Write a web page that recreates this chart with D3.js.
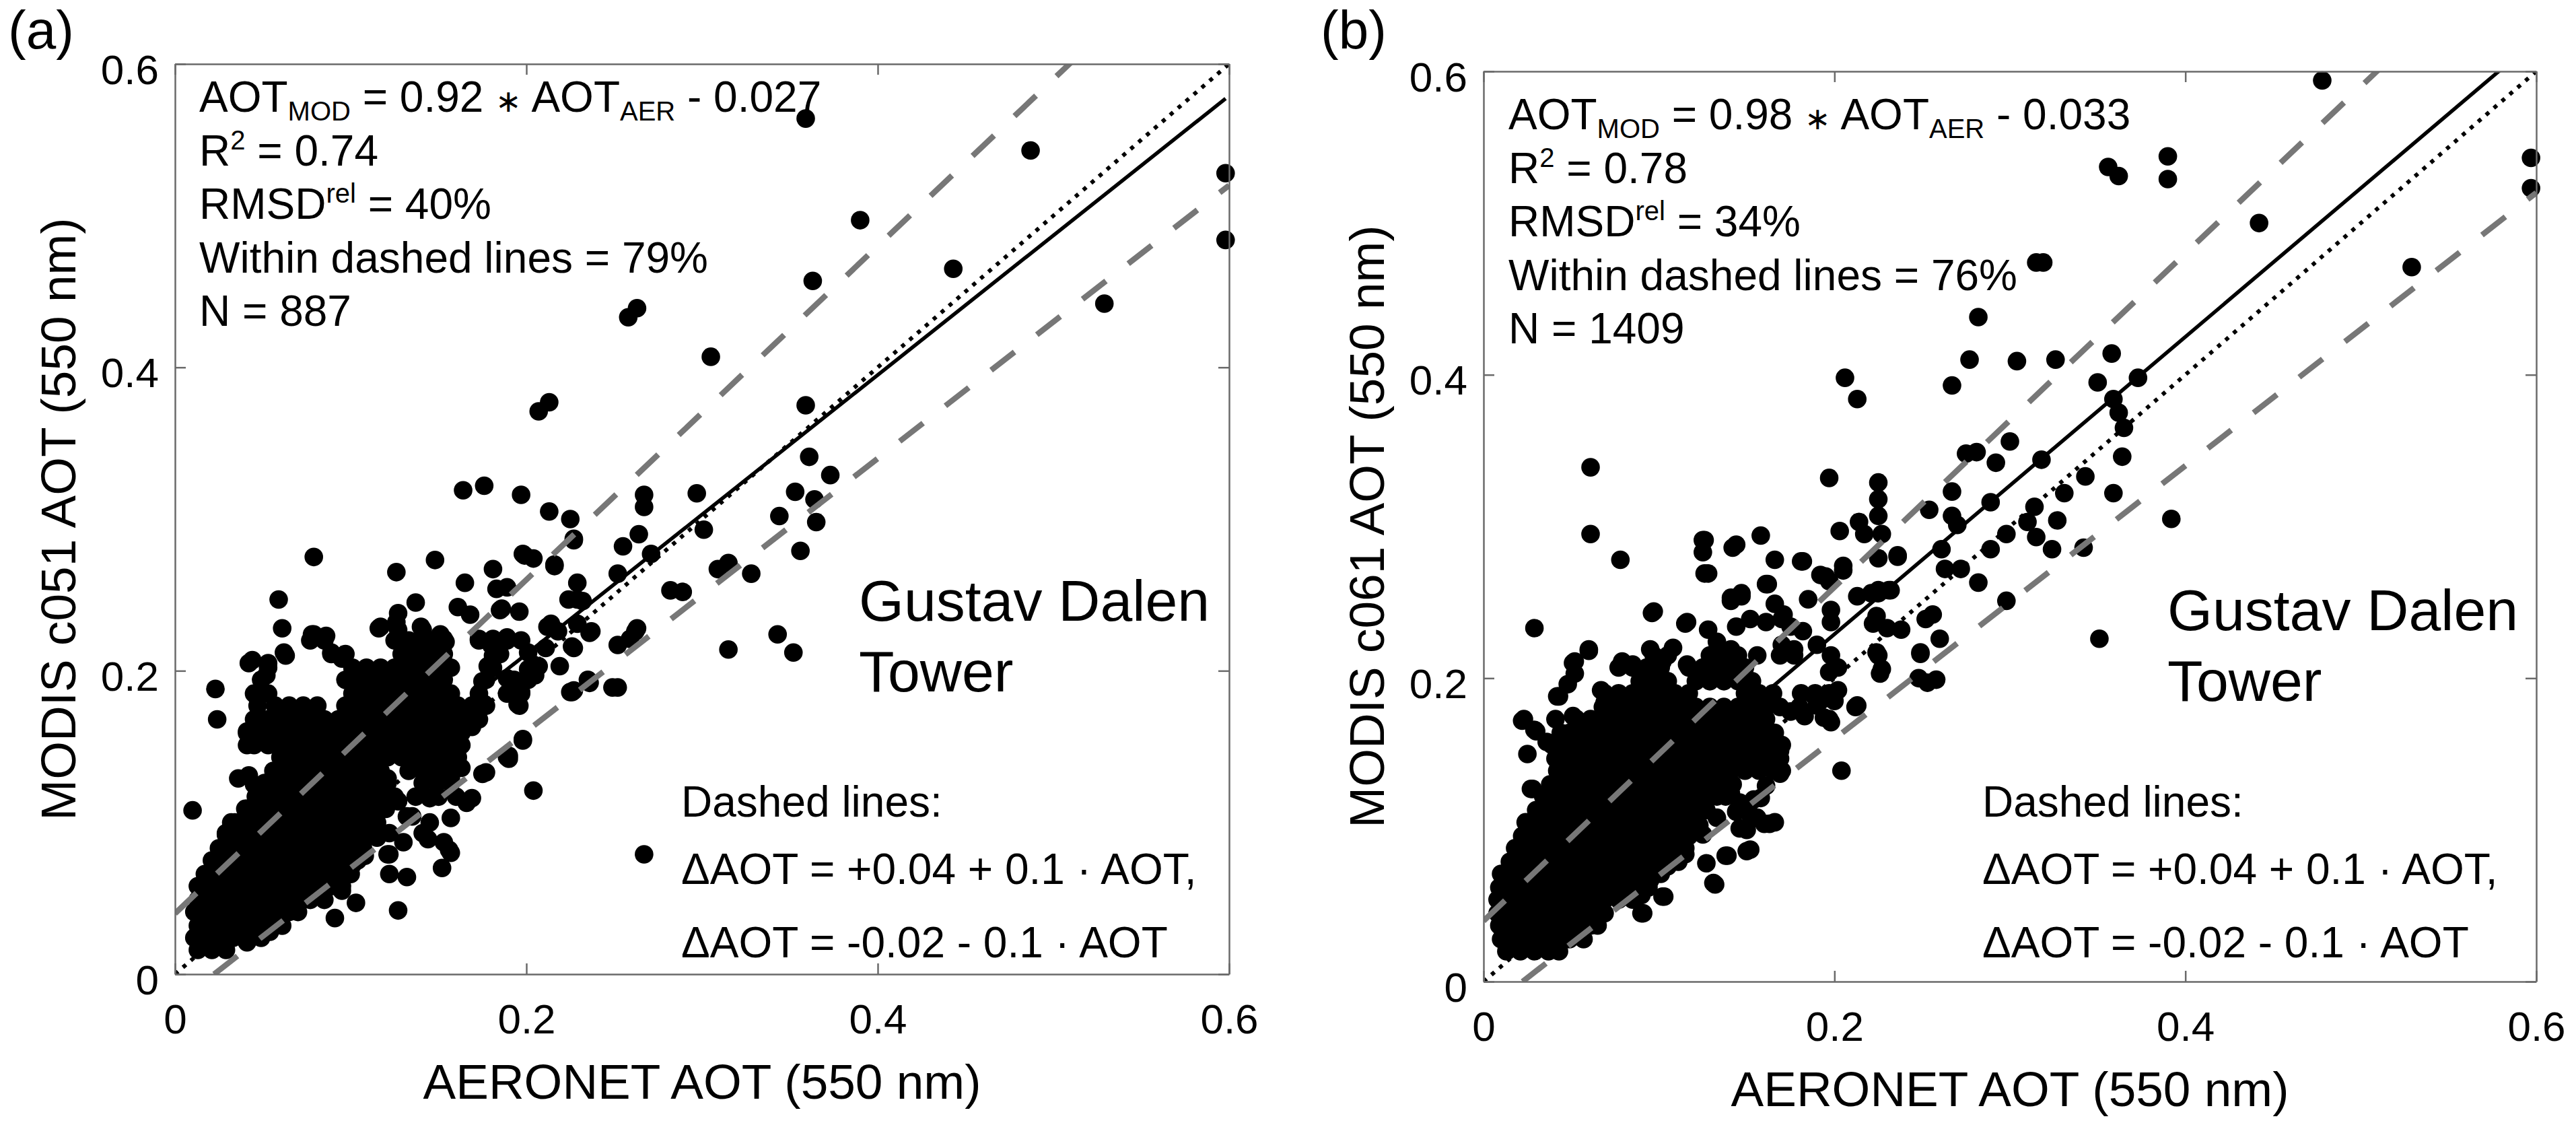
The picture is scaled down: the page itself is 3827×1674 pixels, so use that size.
<!DOCTYPE html>
<html>
<head>
<meta charset="utf-8">
<script src="https://cdn.jsdelivr.net/npm/d3@7"></script>
<style>
  body { margin: 0; background: #fff; }
  svg { display: block; }
  text { font-family: "Liberation Sans", Arial, sans-serif; fill: #000; }
</style>
</head>
<body>
<svg id="chart" width="3827" height="1674"></svg>
<script>
// ---- data ----
var ticks = [0, 0.2, 0.4, 0.6];
var tickLabels = ["0", "0.2", "0.4", "0.6"];
var panelLetters = ["(a)", "(b)"];
var yTitles = ["MODIS c051 AOT (550 nm)", "MODIS c061 AOT (550 nm)"];
var xTitle = "AERONET AOT (550 nm)";
var siteName = ["Gustav Dalen", "Tower"];

// regression line as drawn (slope, offset)
var fitSlope = [0.92, 0.98];
var fitOffset = [0.027, 0.033];

// expected-error envelope: offset, slope
var envUpper = [0.04, 1.1];
var envLower = [-0.02, 0.9];

var statsA = [
  [["AOT", ""], ["MOD", "sub"], [" = 0.92 ", ""], ["\u2217", "star"], [" AOT", ""], ["AER", "sub"], [" - 0.027", ""]],
  [["R", ""], ["2", "sup"], [" = 0.74", ""]],
  [["RMSD", ""], ["rel", "sup"], [" = 40%", ""]],
  [["Within dashed lines = 79%", ""]],
  [["N = 887", ""]]
];
var statsB = [
  [["AOT", ""], ["MOD", "sub"], [" = 0.98 ", ""], ["\u2217", "star"], [" AOT", ""], ["AER", "sub"], [" - 0.033", ""]],
  [["R", ""], ["2", "sup"], [" = 0.78", ""]],
  [["RMSD", ""], ["rel", "sup"], [" = 34%", ""]],
  [["Within dashed lines = 76%", ""]],
  [["N = 1409", ""]]
];
var envText = ["Dashed lines:", "\u0394AOT = +0.04 + 0.1 \u00b7 AOT,", "\u0394AOT = -0.02 - 0.1 \u00b7 AOT"];

// scattered points (AERONET, MODIS), panel a
var pointsA = [
  [0.359,0.564],[0.487,0.543],[0.598,0.528],[0.598,0.484],[0.390,0.497],[0.443,0.465],[0.363,0.457],[0.529,0.442],
  [0.263,0.439],[0.258,0.433],[0.305,0.407],[0.359,0.375],[0.213,0.377],[0.207,0.371],
  [0.361,0.341],[0.373,0.329],[0.364,0.313],[0.353,0.318],[0.344,0.302],[0.365,0.298],[0.356,0.279],[0.297,0.317],
  [0.267,0.316],[0.267,0.308],[0.301,0.293],[0.264,0.290],[0.271,0.277],[0.255,0.282],[0.252,0.264],[0.309,0.267],
  [0.315,0.271],[0.328,0.264],[0.282,0.253],[0.289,0.252],[0.343,0.224],[0.352,0.212],[0.315,0.214],[0.263,0.228],
  [0.259,0.221],[0.252,0.189],[0.227,0.187],[0.236,0.192],
  [0.164,0.319],[0.176,0.322],[0.197,0.316],[0.213,0.305],[0.225,0.300],[0.227,0.287],[0.199,0.276],[0.204,0.274],
  [0.216,0.269],[0.181,0.267],[0.165,0.258],[0.148,0.273],[0.126,0.265],[0.079,0.275],[0.137,0.245],[0.127,0.238],
  [0.059,0.247],[0.061,0.228],[0.078,0.224],[0.085,0.222],[0.062,0.212],[0.042,0.205],[0.053,0.205],[0.023,0.188],
  [0.024,0.168],[0.010,0.108],[0.267,0.079],[0.204,0.121],[0.127,0.042],[0.091,0.037],
  [0.229,0.258],[0.229,0.247],[0.237,0.226],[0.227,0.215],[0.186,0.241],[0.196,0.239],[0.183,0.254],[0.161,0.242],
  [0.151,0.224],[0.142,0.222],[0.117,0.229],[0.140,0.229],[0.180,0.217],[0.212,0.229],[0.204,0.204],[0.196,0.192],
  [0.196,0.177],[0.198,0.154],[0.190,0.144],[0.176,0.177],[0.169,0.163],
  [0.198,0.277],[0.216,0.270],[0.189,0.255],[0.227,0.286],[0.127,0.227],[0.116,0.228],[0.153,0.221],[0.127,0.221],
  [0.079,0.224],[0.086,0.223],[0.168,0.237],[0.185,0.240],[0.173,0.221],[0.181,0.221],[0.189,0.222],[0.214,0.231],
  [0.224,0.247],[0.232,0.246],[0.229,0.231],[0.236,0.225],[0.252,0.217],[0.249,0.189],[0.225,0.186],[0.195,0.178],
  [0.198,0.155],[0.189,0.143],[0.175,0.132],[0.166,0.113],[0.157,0.103],[0.156,0.082],[0.152,0.070],[0.145,0.100],
  [0.144,0.089],[0.132,0.064],[0.122,0.066],[0.122,0.079],[0.130,0.087],[0.103,0.047],[0.095,0.055],[0.101,0.072],
  [0.108,0.078],[0.114,0.093],[0.122,0.093],[0.132,0.104],[0.137,0.117],[0.127,0.114],[0.121,0.129],[0.163,0.136],
  [0.147,0.129],[0.157,0.129],[0.163,0.159],[0.170,0.169],[0.176,0.178],[0.175,0.193],[0.178,0.203],[0.181,0.210],
  [0.189,0.195],[0.201,0.201],[0.207,0.203],[0.193,0.189],[0.219,0.203],[0.211,0.215],[0.201,0.212],[0.205,0.197],
  [0.197,0.186],[0.226,0.186],[0.235,0.194],[0.262,0.226],[0.190,0.142],[0.157,0.131],[0.169,0.116],[0.145,0.116],
  [0.135,0.104],[0.141,0.093],[0.153,0.087],[0.157,0.080],[0.121,0.079],[0.115,0.090],[0.177,0.133],[0.041,0.159],
  [0.045,0.152],[0.036,0.129],[0.042,0.131],[0.045,0.125],[0.032,0.100],[0.029,0.093],[0.041,0.021],[0.054,0.028],
  [0.063,0.210],[0.044,0.207],[0.052,0.197],[0.047,0.182],[0.089,0.212],[0.095,0.208],[0.154,0.219],[0.141,0.227],
  [0.126,0.232],[0.218,0.226],[0.226,0.216]
];

// dense core of panel a, listed row by row: [MODIS, [AERONET ...]]
var coreA = [
  [0.016,[0.013,0.021,0.029]],
  [0.024,[0.011,0.017,0.025,0.033,0.041,0.049]],
  [0.032,[0.013,0.021,0.029,0.037,0.045,0.053,0.061]],
  [0.041,[0.011,0.017,0.025,0.033,0.041,0.049,0.057,0.065,0.070]],
  [0.049,[0.013,0.021,0.029,0.037,0.045,0.053,0.061,0.069,0.077,0.085]],
  [0.058,[0.013,0.017,0.025,0.033,0.041,0.049,0.057,0.065,0.073,0.081,0.089,0.095]],
  [0.066,[0.017,0.021,0.029,0.037,0.045,0.053,0.061,0.069,0.077,0.085,0.093,0.100]],
  [0.075,[0.021,0.025,0.033,0.041,0.049,0.057,0.065,0.073,0.081,0.089,0.097,0.104]],
  [0.083,[0.025,0.029,0.037,0.045,0.053,0.061,0.069,0.077,0.085,0.093,0.101,0.107]],
  [0.092,[0.029,0.033,0.041,0.049,0.057,0.065,0.073,0.081,0.089,0.097,0.105,0.111]],
  [0.100,[0.034,0.037,0.045,0.053,0.061,0.069,0.077,0.085,0.093,0.101,0.109,0.115]],
  [0.109,[0.040,0.041,0.049,0.057,0.065,0.073,0.081,0.089,0.097,0.105,0.113,0.120]],
  [0.117,[0.046,0.053,0.061,0.069,0.077,0.085,0.093,0.101,0.109,0.117,0.125,0.150,0.160]],
  [0.126,[0.051,0.057,0.065,0.073,0.081,0.089,0.097,0.105,0.113,0.121,0.141,0.149,0.157]],
  [0.134,[0.056,0.061,0.069,0.077,0.085,0.093,0.101,0.109,0.117,0.133,0.141,0.149,0.157]],
  [0.143,[0.060,0.065,0.073,0.081,0.089,0.097,0.105,0.113,0.121,0.129,0.137,0.145,0.153,0.161]],
  [0.151,[0.041,0.045,0.053,0.061,0.069,0.077,0.085,0.093,0.101,0.109,0.117,0.125,0.133,0.141,0.149,0.157,0.163]],
  [0.160,[0.041,0.049,0.057,0.065,0.073,0.081,0.089,0.097,0.105,0.113,0.121,0.129,0.137,0.145,0.153,0.161]],
  [0.168,[0.045,0.053,0.061,0.069,0.077,0.085,0.093,0.101,0.109,0.117,0.125,0.133,0.141,0.149,0.157,0.165,0.173]],
  [0.177,[0.047,0.057,0.065,0.073,0.081,0.097,0.105,0.113,0.121,0.129,0.137,0.145,0.153,0.161,0.169,0.177]],
  [0.185,[0.045,0.053,0.101,0.109,0.117,0.125,0.133,0.141,0.149,0.157,0.173,0.189,0.197]],
  [0.194,[0.049,0.097,0.105,0.113,0.121,0.129,0.137,0.145,0.153,0.177,0.193,0.201]],
  [0.202,[0.053,0.101,0.109,0.117,0.125,0.133,0.141,0.149,0.157,0.181,0.205]],
  [0.211,[0.089,0.097,0.129,0.137,0.145,0.153,0.185]],
  [0.220,[0.077,0.085,0.125,0.133,0.141,0.149,0.173,0.181,0.189,0.197]]
];

// scattered points, panel b
var pointsB = [
  [0.478,0.594],[0.390,0.544],[0.390,0.529],[0.356,0.537],[0.362,0.531],[0.597,0.543],[0.597,0.523],[0.442,0.500],
  [0.529,0.471],[0.315,0.474],[0.319,0.474],[0.282,0.438],[0.277,0.410],[0.304,0.409],[0.326,0.410],[0.358,0.414],
  [0.350,0.395],[0.373,0.398],[0.267,0.393],[0.206,0.398],[0.213,0.384],[0.359,0.384],[0.362,0.375],[0.365,0.365],
  [0.364,0.346],[0.359,0.322],[0.392,0.305],[0.343,0.333],[0.331,0.322],[0.327,0.304],[0.314,0.313],[0.318,0.344],
  [0.300,0.356],[0.275,0.348],[0.281,0.349],[0.292,0.342],[0.267,0.323],[0.289,0.316],[0.267,0.307],[0.270,0.301],
  [0.254,0.311],[0.261,0.285],[0.289,0.285],[0.298,0.295],[0.310,0.303],[0.315,0.293],[0.324,0.285],[0.342,0.286],
  [0.351,0.226],[0.263,0.272],[0.272,0.272],[0.282,0.263],[0.298,0.251],[0.225,0.329],[0.225,0.318],[0.225,0.307],
  [0.227,0.295],[0.214,0.303],[0.217,0.295],[0.203,0.297],[0.197,0.332],[0.236,0.280],[0.225,0.279],[0.225,0.258],
  [0.232,0.258],[0.221,0.256],[0.205,0.271],[0.195,0.267],[0.181,0.277],[0.158,0.294],[0.142,0.286],[0.125,0.291],
  [0.125,0.283],[0.126,0.269],[0.061,0.339],[0.061,0.295],[0.078,0.278],[0.029,0.233],[0.096,0.243],[0.115,0.236],
  [0.141,0.251],[0.147,0.254],[0.161,0.262],[0.171,0.242],[0.182,0.231],[0.204,0.139],[0.212,0.181],[0.224,0.217],
  [0.227,0.206],[0.230,0.233],[0.249,0.216],[0.253,0.197],[0.258,0.199],[0.260,0.226],[0.256,0.242],[0.197,0.204],
  [0.194,0.174],[0.163,0.104],[0.150,0.086],[0.138,0.083],[0.127,0.078],[0.131,0.065],[0.102,0.056],[0.090,0.045],
  [0.010,0.071],[0.060,0.218],[0.051,0.210],[0.042,0.188],[0.022,0.172],[0.029,0.166],[0.027,0.127],
  [0.023,0.173],[0.030,0.165],[0.036,0.158],[0.025,0.150],[0.028,0.127],[0.024,0.105],[0.041,0.173],[0.051,0.175],
  [0.043,0.188],[0.048,0.196],[0.052,0.203],[0.052,0.211],[0.060,0.219],[0.067,0.192],[0.069,0.184],[0.079,0.211],
  [0.085,0.209],[0.095,0.219],[0.108,0.220],[0.102,0.211],[0.116,0.209],[0.126,0.207],[0.128,0.232],[0.133,0.224],
  [0.141,0.219],[0.144,0.234],[0.152,0.239],[0.161,0.237],[0.156,0.215],[0.162,0.262],[0.166,0.249],[0.170,0.239],
  [0.170,0.222],[0.175,0.234],[0.177,0.219],[0.190,0.222],[0.198,0.215],[0.202,0.207],[0.192,0.268],[0.197,0.264],
  [0.185,0.252],[0.198,0.245],[0.198,0.237],[0.213,0.254],[0.205,0.274],[0.182,0.277],[0.166,0.278],[0.144,0.288],
  [0.141,0.253],[0.147,0.256],[0.116,0.237],[0.097,0.244],[0.126,0.291],[0.128,0.269],[0.225,0.256],[0.231,0.258],
  [0.224,0.241],[0.222,0.236],[0.225,0.215],[0.226,0.203],[0.238,0.232],[0.236,0.281],[0.252,0.239],[0.249,0.217],
  [0.248,0.200],[0.213,0.182],[0.198,0.171],[0.193,0.186],[0.202,0.192],[0.180,0.181],[0.169,0.152],[0.169,0.137],
  [0.161,0.129],[0.154,0.120],[0.151,0.112],[0.166,0.105],[0.156,0.108],[0.146,0.101],[0.133,0.108],[0.123,0.103],
  [0.125,0.097],[0.152,0.087],[0.139,0.083],[0.132,0.064],[0.115,0.084],[0.103,0.056],[0.091,0.045],[0.090,0.057],
  [0.082,0.063],[0.095,0.067],[0.105,0.076],[0.043,0.025],[0.056,0.031],[0.144,0.112],[0.141,0.124],[0.175,0.178],
  [0.183,0.175],[0.190,0.182],[0.197,0.173],[0.200,0.185],[0.146,0.118],[0.152,0.110],[0.158,0.121],[0.150,0.100],
  [0.160,0.104]
];

// dense core of panel b
var coreB = [
  [0.020,[0.013,0.021,0.029,0.037,0.043]],
  [0.028,[0.010,0.017,0.025,0.033,0.041,0.049,0.057]],
  [0.037,[0.009,0.013,0.021,0.029,0.037,0.045,0.053,0.061,0.065]],
  [0.045,[0.008,0.017,0.025,0.033,0.041,0.049,0.057,0.065,0.069]],
  [0.054,[0.008,0.013,0.021,0.029,0.037,0.045,0.053,0.061,0.069,0.077,0.085]],
  [0.062,[0.009,0.017,0.025,0.033,0.041,0.049,0.057,0.065,0.073,0.081,0.089,0.094]],
  [0.071,[0.012,0.021,0.029,0.037,0.045,0.053,0.061,0.069,0.077,0.085,0.093,0.101]],
  [0.079,[0.015,0.017,0.025,0.033,0.041,0.049,0.057,0.065,0.073,0.081,0.089,0.097,0.105,0.111]],
  [0.088,[0.018,0.021,0.029,0.037,0.045,0.053,0.061,0.069,0.077,0.085,0.093,0.101,0.109,0.115]],
  [0.096,[0.022,0.025,0.033,0.041,0.049,0.057,0.065,0.073,0.081,0.089,0.097,0.105,0.113,0.117]],
  [0.105,[0.026,0.029,0.037,0.045,0.053,0.061,0.069,0.077,0.085,0.093,0.101,0.109,0.117,0.121]],
  [0.113,[0.030,0.033,0.041,0.049,0.057,0.065,0.073,0.081,0.089,0.097,0.105,0.113,0.121,0.127]],
  [0.122,[0.034,0.037,0.045,0.053,0.061,0.069,0.077,0.085,0.093,0.101,0.109,0.117,0.125,0.133,0.138]],
  [0.130,[0.038,0.041,0.049,0.057,0.065,0.073,0.081,0.089,0.097,0.105,0.113,0.121,0.129,0.137,0.142]],
  [0.139,[0.042,0.045,0.053,0.061,0.069,0.077,0.085,0.093,0.101,0.109,0.117,0.125,0.133,0.141,0.149,0.157,0.165,0.170]],
  [0.147,[0.041,0.049,0.057,0.065,0.073,0.081,0.089,0.097,0.105,0.113,0.121,0.129,0.137,0.145,0.153,0.161,0.169]],
  [0.156,[0.039,0.045,0.053,0.061,0.069,0.077,0.085,0.093,0.101,0.109,0.117,0.125,0.133,0.141,0.149,0.157,0.165,0.170]],
  [0.164,[0.044,0.049,0.057,0.065,0.073,0.081,0.089,0.097,0.105,0.113,0.121,0.129,0.137,0.145,0.153,0.161,0.166]],
  [0.173,[0.053,0.061,0.069,0.077,0.085,0.093,0.101,0.109,0.117,0.125,0.133,0.141,0.149,0.157,0.161]],
  [0.181,[0.068,0.073,0.081,0.089,0.097,0.105,0.113,0.121,0.129,0.137,0.145,0.153,0.161,0.169]],
  [0.190,[0.069,0.077,0.085,0.093,0.101,0.109,0.117,0.149,0.157,0.165,0.181,0.189,0.197]],
  [0.198,[0.089,0.097,0.105,0.121,0.129,0.137,0.145,0.153]],
  [0.207,[0.077,0.085,0.093,0.101,0.117,0.125,0.133,0.141,0.149]],
  [0.215,[0.097,0.105,0.129,0.137,0.145,0.169,0.177]]
];

// ---- drawing ----
var svg = d3.select("#chart");
var axisColor = "#6a6a6a";

function expandRows(rows) {
  var out = [];
  rows.forEach(function(r) { r[1].forEach(function(x) { out.push([x, r[0]]); }); });
  return out;
}

function richLine(g, x, y, parts, size) {
  var t = g.append("text").attr("x", x).attr("y", y)
    .attr("font-size", size).style("white-space", "pre");
  var shift = 0;
  parts.forEach(function(p) {
    var target = p[1] === "sub" ? 13 : (p[1] === "sup" ? -24 : 0);
    var fs = p[1] === "star" ? 46 : (p[1] ? 40 : size);
    t.append("tspan")
      .attr("dy", target - shift)
      .attr("font-size", fs)
      .text(p[0]);
    shift = target;
  });
}

function drawPanel(cfg) {
  var left = cfg.left, top = cfg.top, w = cfg.width, h = cfg.height;
  var x = d3.scaleLinear().domain([0, 0.6]).range([left, left + w]);
  var y = d3.scaleLinear().domain([0, 0.6]).range([top + h, top]);
  var g = svg.append("g");

  g.append("clipPath").attr("id", "clip" + cfg.id)
    .append("rect").attr("x", left).attr("y", top).attr("width", w).attr("height", h);

  // scatter
  var pts = cfg.points.concat(expandRows(cfg.core));
  g.append("g").selectAll("circle")
    .data(pts)
    .enter().append("circle")
    .attr("cx", function(d) { return x(d[0]); })
    .attr("cy", function(d) { return y(d[1]); })
    .attr("r", 13.8)
    .attr("fill", "#000");

  var line = d3.line()
    .x(function(d) { return x(d[0]); })
    .y(function(d) { return y(d[1]); });
  var lines = g.append("g").attr("clip-path", "url(#clip" + cfg.id + ")");

  // 1:1 line
  lines.append("path")
    .attr("d", line([[0, 0], [0.6, 0.6]]))
    .attr("fill", "none").attr("stroke", "#000")
    .attr("stroke-width", 6).attr("stroke-dasharray", "6 9.5");

  // regression line over the range of the data
  var xr = d3.extent(pts, function(d) { return d[0]; });
  lines.append("path")
    .attr("d", line(xr.map(function(v) { return [v, cfg.slope * v + cfg.offset]; })))
    .attr("fill", "none").attr("stroke", "#000").attr("stroke-width", 5.5);

  // envelope
  var lowStart = -envLower[0] / envLower[1];
  lines.append("path")
    .attr("d", line([[0, envUpper[0]], [0.6, envUpper[0] + envUpper[1] * 0.6]]))
    .attr("fill", "none").attr("stroke", "#777").attr("stroke-width", 8.5)
    .attr("stroke-dasharray", "44 42");
  lines.append("path")
    .attr("d", line([[lowStart, 0], [0.6, envLower[0] + envLower[1] * 0.6]]))
    .attr("fill", "none").attr("stroke", "#777").attr("stroke-width", 8.5)
    .attr("stroke-dasharray", "44 42");

  // axes (box with inward ticks)
  var fmt = function(d, i) { return tickLabels[i]; };
  var axB = g.append("g").attr("transform", "translate(0," + (top + h) + ")")
    .call(d3.axisBottom(x).tickValues(ticks).tickFormat(fmt).tickSizeInner(-16).tickSizeOuter(0).tickPadding(44));
  var axT = g.append("g").attr("transform", "translate(0," + top + ")")
    .call(d3.axisTop(x).tickValues(ticks).tickFormat("").tickSizeInner(-16).tickSizeOuter(0));
  var axL = g.append("g").attr("transform", "translate(" + left + ",0)")
    .call(d3.axisLeft(y).tickValues(ticks).tickFormat(fmt).tickSizeInner(-16).tickSizeOuter(0).tickPadding(24));
  var axR = g.append("g").attr("transform", "translate(" + (left + w) + ",0)")
    .call(d3.axisRight(y).tickValues(ticks).tickFormat("").tickSizeInner(-16).tickSizeOuter(0));
  [axB, axT, axL, axR].forEach(function(a) {
    a.attr("font-family", null).attr("font-size", null);
    a.selectAll("path, line").attr("stroke", axisColor).attr("stroke-width", 2.5);
    a.selectAll("text").attr("font-size", 62).attr("fill", "#000");
  });
  axL.selectAll("text").attr("dy", "0.47em");

  // titles
  g.append("text")
    .attr("x", left + w / 2).attr("y", top + h + 185)
    .attr("text-anchor", "middle").attr("font-size", 73)
    .text(xTitle);
  g.append("text")
    .attr("transform", "translate(" + (left - 148) + "," + (top + h / 2) + ") rotate(-90)")
    .attr("text-anchor", "middle").attr("font-size", 73)
    .text(cfg.yTitle);
  g.append("text")
    .attr("x", cfg.letterX).attr("y", 72)
    .attr("font-size", 80).text(cfg.letter);

  // statistics
  cfg.stats.forEach(function(parts, i) {
    richLine(g, left + cfg.statsDx, cfg.statsY0 + i * 79.5, parts, 64);
  });

  // site name
  siteName.forEach(function(s, i) {
    g.append("text").attr("x", left + 1016).attr("y", top + cfg.siteDy + i * 105)
      .attr("font-size", 86).text(s);
  });

  // envelope legend
  var envY = [1213, 1313, 1422];
  envText.forEach(function(s, i) {
    g.append("text").attr("x", left + cfg.envDx).attr("y", envY[i])
      .attr("font-size", 64).style("white-space", "pre").text(s);
  });
}

drawPanel({
  id: "a", left: 260, top: 95, width: 1566, height: 1352,
  points: pointsA, core: coreA, slope: fitSlope[0], offset: fitOffset[0],
  yTitle: yTitles[0], letter: panelLetters[0], letterX: 12,
  stats: statsA, statsDx: 36, statsY0: 166, siteDy: 827, envDx: 752
});
drawPanel({
  id: "b", left: 2204, top: 106, width: 1564, height: 1352,
  points: pointsB, core: coreB, slope: fitSlope[1], offset: fitOffset[1],
  yTitle: yTitles[1], letter: panelLetters[1], letterX: 1962,
  stats: statsB, statsDx: 37, statsY0: 192, siteDy: 830, envDx: 741
});
</script>
</body>
</html>
